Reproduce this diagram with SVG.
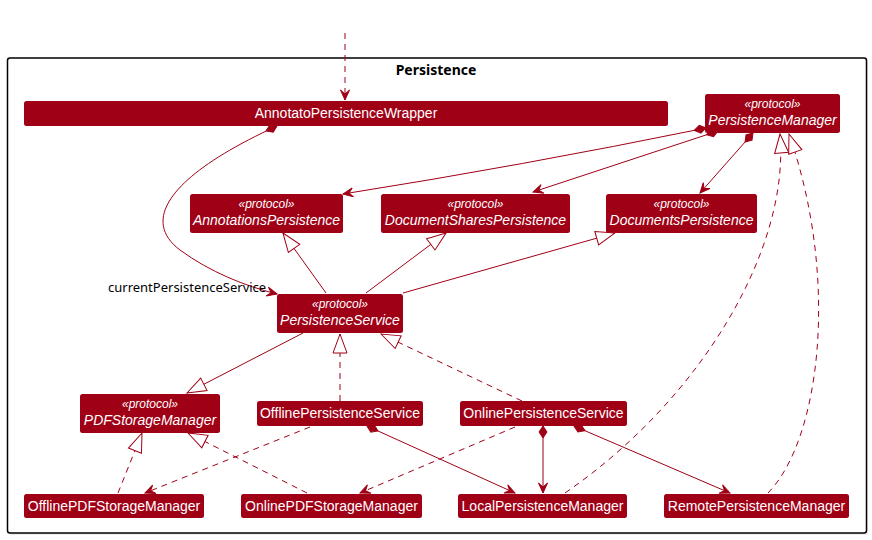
<svg xmlns="http://www.w3.org/2000/svg" width="872" height="540" viewBox="0 0 872 540">
<style>
.n{fill:#A00016;}
.t{font-family:"Liberation Sans",Arial,sans-serif;font-size:14px;fill:#fff;text-anchor:middle;}
.st{font-family:"Liberation Sans",Arial,sans-serif;font-size:12px;font-style:italic;fill:#fff;text-anchor:middle;}
.it{font-family:"Liberation Sans",Arial,sans-serif;font-size:14px;font-style:italic;fill:#fff;text-anchor:middle;}
.l{fill:none;stroke:#A00016;stroke-width:1;}
.d{stroke-dasharray:6,5;}
.title{font-family:"Noto Sans",sans-serif;font-size:14px;font-weight:bold;fill:#000;text-anchor:middle;}
.lbl{font-family:"Noto Sans",sans-serif;font-size:13px;fill:#000;}
</style>
<defs>
<marker id="arr" markerUnits="userSpaceOnUse" orient="auto" refX="0" refY="0" markerWidth="20" markerHeight="20" style="overflow:visible">
<polygon points="0,0 -10,-4.5 -6,0 -10,4.5" fill="#A00016" stroke="#A00016" stroke-width="1" stroke-dasharray="none"/>
</marker>
<marker id="tri" markerUnits="userSpaceOnUse" orient="auto" refX="0" refY="0" markerWidth="30" markerHeight="30" style="overflow:visible">
<polygon points="0,0 -19,-7 -19,7" fill="#fff" stroke="#A00016" stroke-width="1" stroke-dasharray="none"/>
</marker>
<marker id="dia" markerUnits="userSpaceOnUse" orient="auto" refX="0" refY="0" markerWidth="30" markerHeight="30" style="overflow:visible">
<polygon points="0,0 6,-4 12,0 6,4" fill="#A00016" stroke="#A00016" stroke-width="1" stroke-dasharray="none"/>
</marker>
</defs>
<rect width="872" height="540" fill="#fff"/>
<g id="frame">
<rect x="9" y="60" width="859" height="475" rx="2.5" fill="#e0e0e0" opacity="0.6"/>
<rect x="7.5" y="58" width="859" height="475" rx="2.5" fill="#fff" stroke="#000" stroke-width="1.5"/>
<text class="title" x="436" y="75">Persistence</text>
</g>
<g id="AnnotatoPersistenceWrapper">
<rect class="n" x="24" y="101" width="644" height="25" rx="2.5"/>
<text class="t" x="346" y="118">AnnotatoPersistenceWrapper</text>
</g>
<g id="PersistenceManager">
<rect class="n" x="705" y="94" width="135" height="39" rx="2.5"/>
<text class="st" x="772.5" y="108">«protocol»</text>
<text class="it" x="772.5" y="125">PersistenceManager</text>
</g>
<g id="AnnotationsPersistence">
<rect class="n" x="190" y="194" width="153" height="39" rx="2.5"/>
<text class="st" x="266.5" y="208">«protocol»</text>
<text class="it" x="266.5" y="225">AnnotationsPersistence</text>
</g>
<g id="DocumentSharesPersistence">
<rect class="n" x="381" y="194" width="189" height="39" rx="2.5"/>
<text class="st" x="475.5" y="208">«protocol»</text>
<text class="it" x="475.5" y="225">DocumentSharesPersistence</text>
</g>
<g id="DocumentsPersistence">
<rect class="n" x="606" y="194" width="151" height="39" rx="2.5"/>
<text class="st" x="681.5" y="208">«protocol»</text>
<text class="it" x="681.5" y="225">DocumentsPersistence</text>
</g>
<g id="PersistenceService">
<rect class="n" x="277" y="294" width="126" height="39" rx="2.5"/>
<text class="st" x="340" y="308">«protocol»</text>
<text class="it" x="340" y="325">PersistenceService</text>
</g>
<g id="PDFStorageManager">
<rect class="n" x="80" y="394" width="140" height="39" rx="2.5"/>
<text class="st" x="150" y="408">«protocol»</text>
<text class="it" x="150" y="425">PDFStorageManager</text>
</g>
<g id="OfflinePersistenceService">
<rect class="n" x="257" y="401" width="166" height="25" rx="2.5"/>
<text class="t" x="340" y="418">OfflinePersistenceService</text>
</g>
<g id="OnlinePersistenceService">
<rect class="n" x="460" y="401" width="167" height="25" rx="2.5"/>
<text class="t" x="543.5" y="418">OnlinePersistenceService</text>
</g>
<g id="OfflinePDFStorageManager">
<rect class="n" x="24" y="494" width="180" height="24" rx="2.5"/>
<text class="t" x="114" y="511">OfflinePDFStorageManager</text>
</g>
<g id="OnlinePDFStorageManager">
<rect class="n" x="241" y="494" width="181" height="24" rx="2.5"/>
<text class="t" x="331.5" y="511">OnlinePDFStorageManager</text>
</g>
<g id="LocalPersistenceManager">
<rect class="n" x="458" y="494" width="169" height="24" rx="2.5"/>
<text class="t" x="542.5" y="511">LocalPersistenceManager</text>
</g>
<g id="RemotePersistenceManager">
<rect class="n" x="664" y="494" width="185" height="24" rx="2.5"/>
<text class="t" x="756.5" y="511">RemotePersistenceManager</text>
</g>
<g id="connectors">
<path class="l d" d="M345,33 L345,100" marker-end="url(#arr)"/>
<path class="l" d="M277,126 C170,175 140,220 180,250 C210,272 245,286 277,294" marker-start="url(#dia)" marker-end="url(#arr)"/>
<text class="lbl" x="108" y="292">currentPersistenceService</text>
<path class="l" d="M706,128 Q520,166 343,194" marker-start="url(#dia)" marker-end="url(#arr)"/>
<path class="l" d="M718,131 L533,192" marker-start="url(#dia)" marker-end="url(#arr)"/>
<path class="l" d="M753,133 L700,193" marker-start="url(#dia)" marker-end="url(#arr)"/>
<path class="l" d="M326,293 L283,233" marker-end="url(#tri)"/>
<path class="l" d="M366,293 L446,233" marker-end="url(#tri)"/>
<path class="l" d="M403,293 L615,233" marker-end="url(#tri)"/>
<path class="l" d="M303,333 L187,393" marker-end="url(#tri)"/>
<path class="l d" d="M340,401 L340,334" marker-end="url(#tri)"/>
<path class="l d" d="M522,401 L381,334" marker-end="url(#tri)"/>
<path class="l d" d="M118,493 L142,433" marker-end="url(#tri)"/>
<path class="l d" d="M307,493 L188,433" marker-end="url(#tri)"/>
<path class="l d" d="M310,427 L145,493" marker-end="url(#arr)"/>
<path class="l d" d="M515,427 L360,493" marker-end="url(#arr)"/>
<path class="l" d="M367,426 L515,493" marker-start="url(#dia)" marker-end="url(#arr)"/>
<path class="l" d="M543,426 L543,493" marker-start="url(#dia)" marker-end="url(#arr)"/>
<path class="l" d="M574,426 L730,493" marker-start="url(#dia)" marker-end="url(#arr)"/>
<path class="l d" d="M565,493 C700,400 790,250 780,134" marker-end="url(#tri)"/>
<path class="l d" d="M768,493 C820,440 840,280 789,134" marker-end="url(#tri)"/>
</g>
</svg>
